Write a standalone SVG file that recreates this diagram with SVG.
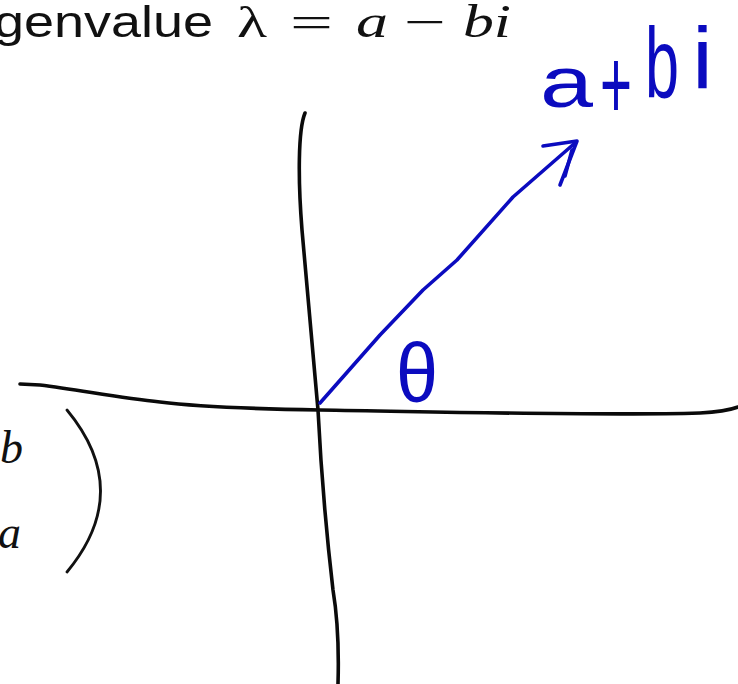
<svg xmlns="http://www.w3.org/2000/svg" width="738" height="684" viewBox="0 0 738 684">
<style>
.sans{font-family:"Liberation Sans",Arial,sans-serif;fill:#111}
.math{font-family:"Liberation Serif","Times New Roman",serif;fill:#111}
.it{font-style:italic}
.ink{fill:none;stroke:#0a0a0a;stroke-width:3.6;stroke-linecap:round;stroke-linejoin:round}
.blue{fill:none;stroke:#0b0bbf;stroke-width:3.6;stroke-linecap:round;stroke-linejoin:round}
.hand{font-family:"Liberation Sans",Arial,sans-serif;fill:#0b0bbf}
</style>
<rect width="738" height="684" fill="#ffffff"/>
<g id="title">
<text class="sans" x="-6" y="37" font-size="45" textLength="219" lengthAdjust="spacingAndGlyphs">genvalue</text>
<text class="math" x="237" y="37" font-size="44" textLength="30" lengthAdjust="spacingAndGlyphs">λ</text>
<text class="math" x="290" y="37" font-size="44" textLength="43" lengthAdjust="spacingAndGlyphs">=</text>
<text class="math it" x="356" y="37" font-size="46" textLength="32" lengthAdjust="spacingAndGlyphs">a</text>
<text class="math" x="404" y="37" font-size="44" textLength="42" lengthAdjust="spacingAndGlyphs">−</text>
<text class="math it" x="463" y="37" font-size="46" textLength="48" lengthAdjust="spacingAndGlyphs">bi</text>
</g>
<g id="matrix">
<text class="math it" x="0" y="463" font-size="46">b</text>
<text class="math it" x="-2" y="548" font-size="46">a</text>
<path d="M67,410 Q134,491 67,572" fill="none" stroke="#111" stroke-width="2.8" stroke-linecap="round"/>
</g>
<g id="axes">
<path class="ink" d="M20,384 L40,385 C80,390 120,398 160,402 C200,407 260,409 320,410 C450,412 600,416 700,413 C720,412 730,410 738,407"/>
<path class="ink" d="M305,113 C298,130 298,180 302,230 L318,410 C321,470 326,530 333,590 C338,620 339,650 338,684"/>
</g>
<g id="connectors">
<path class="blue" d="M320,403 L380,335 L423,290 L457,260 L513,197 L575,143"/>
<path class="blue" d="M543,146 L577,141 L560,185"/>
<path class="blue" stroke-width="2.5" d="M572,150 L565,176"/>
</g>
<g id="vector-label">
<text class="hand"><tspan x="540" y="107" font-size="72" textLength="53" lengthAdjust="spacingAndGlyphs">a</tspan><tspan x="600" y="119" font-size="100" textLength="32" lengthAdjust="spacingAndGlyphs">+</tspan><tspan x="645" y="98" font-size="100" textLength="34" lengthAdjust="spacingAndGlyphs">b</tspan><tspan x="692" y="88" font-size="88" textLength="21" lengthAdjust="spacingAndGlyphs">i</tspan></text>
</g>
<g id="angle-label">
<text class="hand" x="396" y="402" font-size="84" textLength="42" lengthAdjust="spacingAndGlyphs">θ</text>
</g>
</svg>
